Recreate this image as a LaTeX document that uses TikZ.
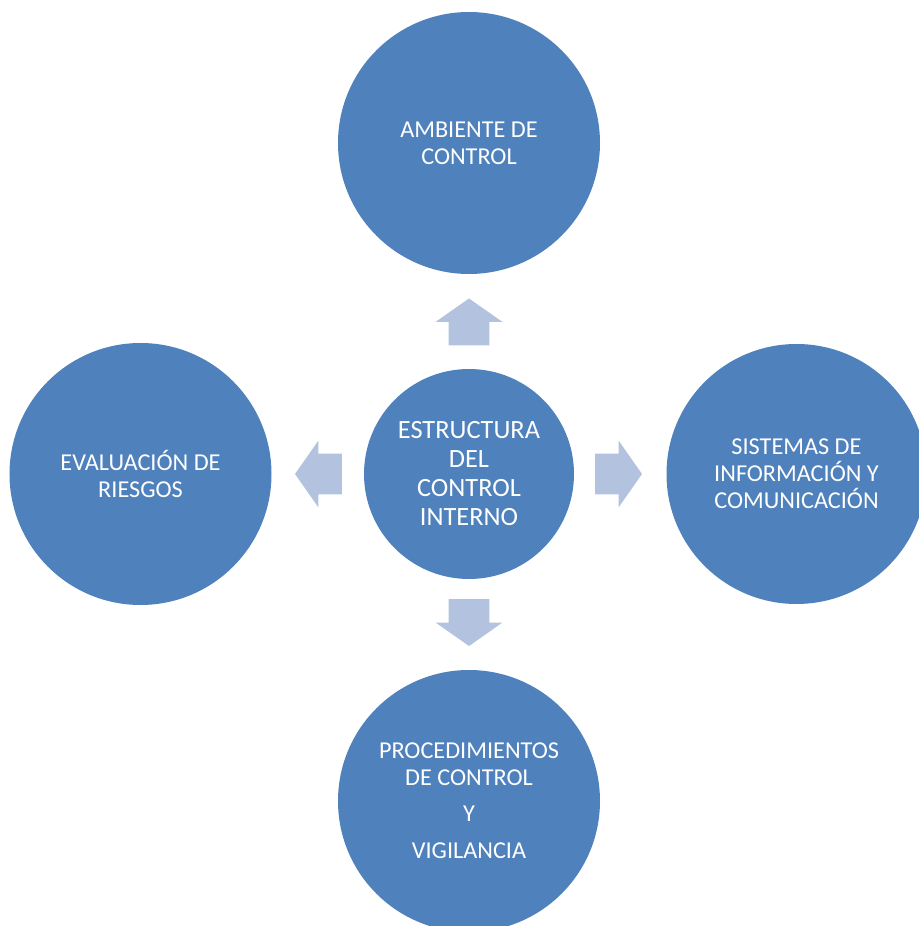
\documentclass[tikz,border=0pt]{standalone}
\usepackage{fontspec}
\setmainfont{Carlito}
\usetikzlibrary{shapes.arrows, positioning}

\definecolor{circblue}{HTML}{4F81BD}
\definecolor{arrowblue}{HTML}{B3C3DF}

\begin{document}
\begin{tikzpicture}[node distance=1.85cm,
  part/.style={circle, fill=circblue, text=white, inner sep=0pt, outer sep=0pt,
    minimum size=5.24cm, align=center, font=\fontsize{13.8}{15.3}\selectfont},
  core/.style={part, minimum size=4.2cm, font=\fontsize{15}{16.5}\selectfont},
  pointer/.style={single arrow, fill=arrowblue, inner xsep=0pt, inner ysep=0.4cm, outer sep=0pt,
    minimum height=0.94cm, single arrow head extend=0.26cm,
    single arrow tip angle=110},
  vpointer/.style={pointer, inner xsep=0.4cm, inner ysep=0pt}]

% page frame
\useasboundingbox (0,0) rectangle (18.38,18.52);
\clip (0,0) rectangle (18.38,18.52);

% Nodes
\node (core) [core] at (9.38,9.04) {ESTRUCTURA\\DEL\\CONTROL\\INTERNO};
\node (ambiente) [part, above=1.9cm of core] {AMBIENTE DE\\CONTROL};
\node (riesgos) [part, left=of core] {EVALUACIÓN DE\\RIESGOS};
\node (sistemas) [part, right=of core, minimum size=5.2cm] {SISTEMAS DE\\INFORMACIÓN Y\\COMUNICACIÓN};
\node (procedimientos) [part, below=1.82cm of core] {PROCEDIMIENTOS\\DE CONTROL\\[5pt]Y\\[6pt]VIGILANCIA};

% Arrows
\node (upArrow) [vpointer, shape border rotate=90, above=0.47cm of core] {};
\node (leftArrow) [pointer, shape border rotate=180, left=0.44cm of core] {};
\node (rightArrow) [pointer, right=0.42cm of core] {};
\node (downArrow) [vpointer, shape border rotate=270, below=0.40cm of core] {};

\end{tikzpicture}
\end{document}
